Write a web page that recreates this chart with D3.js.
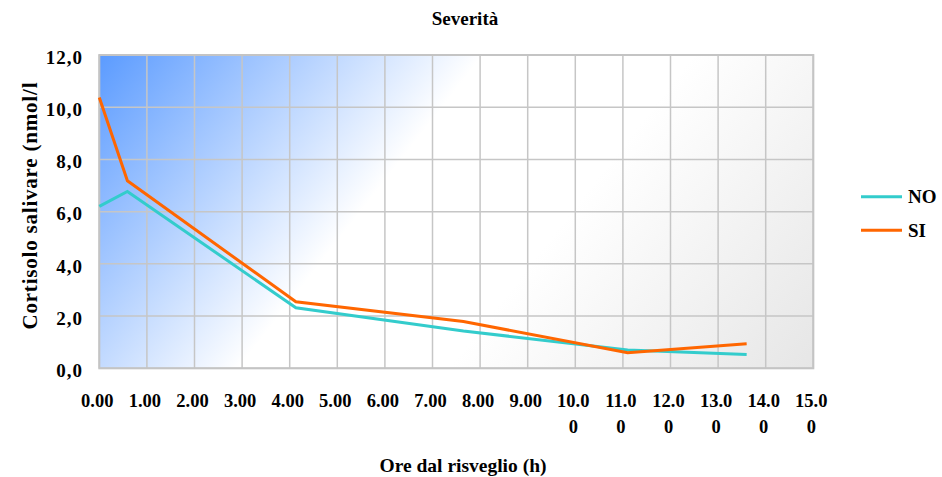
<!DOCTYPE html>
<html>
<head>
<meta charset="utf-8">
<script src="https://cdn.jsdelivr.net/npm/d3@7"></script>
<style>
  html, body { margin: 0; padding: 0; background: #ffffff; }
  svg text { font-family: "Liberation Serif", "Times New Roman", serif; font-weight: bold; fill: #000; }
</style>
</head>
<body>
<svg id="chart" width="942" height="477"></svg>
<script>
// Hours since waking at which saliva was sampled
const hours = [0, 0.59, 4.13, 7.65, 11.1, 13.6];
// Salivary cortisol (nmol/l) by severity group
const seriesNames = ["NO", "SI"];
const valuesNO = [6.2, 6.77, 2.32, 1.43, 0.70, 0.53];
const valuesSI = [10.37, 7.18, 2.55, 1.79, 0.60, 0.94];
const seriesColors = ["#33CCCC", "#FF6600"];
// Axis tick labels
const xTickLabels = ["0.00","1.00","2.00","3.00","4.00","5.00","6.00","7.00","8.00","9.00","10.00","11.00","12.00","13.00","14.00","15.00"];
const yTicks = [0, 2, 4, 6, 8, 10, 12];
const yTickLabels = ["0,0","2,0","4,0","6,0","8,0","10,0","12,0"];

const svg = d3.select("#chart");
const plot = { left: 99.3, right: 813.3, top: 55, bottom: 368.3 };

const x = d3.scaleLinear().domain([0, 15]).range([plot.left, plot.right]);
const y = d3.scaleLinear().domain([0, 12]).range([plot.bottom, plot.top]);

// Diagonal background: blue in the upper left, white in the middle, grey in the lower right
const defs = svg.append("defs");
const pw = plot.right - plot.left, ph = plot.bottom - plot.top;
const ang = 38 * Math.PI / 180;
const len = pw * Math.cos(ang) + ph * Math.sin(ang);
const grad = defs.append("linearGradient")
  .attr("id", "plotBg")
  .attr("gradientUnits", "userSpaceOnUse")
  .attr("x1", plot.left).attr("y1", plot.top)
  .attr("x2", plot.left + len * Math.cos(ang)).attr("y2", plot.top + len * Math.sin(ang));
[[0, "#5b9bff"], [0.40, "#ffffff"], [0.62, "#ffffff"], [1, "#e6e6e6"]].forEach(([o, c]) =>
  grad.append("stop").attr("offset", o).attr("stop-color", c));

svg.append("rect")
  .attr("x", plot.left).attr("y", plot.top)
  .attr("width", pw).attr("height", ph)
  .attr("fill", "url(#plotBg)");

// Grid
const grid = svg.append("g").attr("stroke", "#c6c6c6").attr("stroke-width", 1.5);
grid.selectAll("line.v").data(d3.range(0, 16)).join("line")
  .attr("x1", d => x(d)).attr("x2", d => x(d))
  .attr("y1", plot.top).attr("y2", plot.bottom);
grid.selectAll("line.h").data(yTicks).join("line")
  .attr("x1", plot.left).attr("x2", plot.right)
  .attr("y1", d => y(d)).attr("y2", d => y(d));

svg.append("rect")
  .attr("x", plot.left).attr("y", plot.top)
  .attr("width", pw).attr("height", ph)
  .attr("fill", "none").attr("stroke", "#c4c4c4").attr("stroke-width", 2);

// Series lines
const line = d3.line().x(d => x(d[0])).y(d => y(d[1]));
[valuesNO, valuesSI].forEach((vals, i) => {
  svg.append("path")
    .datum(hours.map((h, j) => [h, vals[j]]))
    .attr("d", line)
    .attr("fill", "none")
    .attr("stroke", seriesColors[i])
    .attr("stroke-width", 3)
    .attr("stroke-linejoin", "miter");
});

// Y axis labels
svg.append("g").selectAll("text").data(yTicks).join("text")
  .attr("x", 83).attr("y", d => y(d) + 2)
  .attr("dy", "0.35em")
  .attr("text-anchor", "end")
  .style("font-size", "19px")
  .style("letter-spacing", "1px")
  .text((d, i) => yTickLabels[i]);

// X axis labels: long labels wrap after four characters
const xl = svg.append("g").selectAll("text").data(xTickLabels).join("text")
  .attr("text-anchor", "middle")
  .style("font-size", "18.5px");
xl.each(function(lbl, i) {
  const t = d3.select(this);
  const parts = lbl.length > 4 ? [lbl.slice(0, 4), lbl.slice(4)] : [lbl];
  parts.forEach((p, k) => {
    t.append("tspan").attr("x", x(i) - 2).attr("y", 406.5 + k * 26).text(p);
  });
});

// Titles
svg.append("text").attr("x", 465).attr("y", 24.5).attr("text-anchor", "middle")
  .style("font-size", "19px").text("Severità");
svg.append("text").attr("x", 463).attr("y", 472).attr("text-anchor", "middle")
  .style("font-size", "19.5px").text("Ore dal risveglio (h)");
svg.append("text")
  .attr("transform", "translate(37,206) rotate(-90)")
  .attr("text-anchor", "middle")
  .style("font-size", "21px")
  .attr("textLength", 247).attr("lengthAdjust", "spacing")
  .text("Cortisolo salivare (nmol/l");

// Legend
const legend = svg.append("g");
seriesNames.forEach((name, i) => {
  const ly = 196.7 + i * 33.5;
  legend.append("line")
    .attr("x1", 861).attr("x2", 902).attr("y1", ly).attr("y2", ly)
    .attr("stroke", seriesColors[i]).attr("stroke-width", 3);
  legend.append("text").attr("x", 908).attr("y", ly).attr("dy", "0.35em")
    .style("font-size", "19px").text(name);
});
</script>
</body>
</html>
